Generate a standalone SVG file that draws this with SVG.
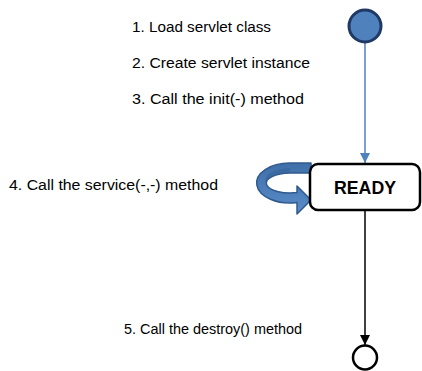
<svg xmlns="http://www.w3.org/2000/svg" width="422" height="371" viewBox="0 0 422 371">
<style>
  .lbl { font-family: "Liberation Sans", Arial, sans-serif; font-size: 14px; fill: #000; }
  .state { font-family: "Liberation Sans", Arial, sans-serif; font-size: 18px; font-weight: bold; fill: #000; }
</style>
<defs>
  <marker id="ahBlue" viewBox="0 0 10 10" refX="10" refY="5" markerWidth="10" markerHeight="10" markerUnits="userSpaceOnUse" orient="auto">
    <path d="M0,0 L10,5 L0,10 Z" fill="#4f81bd"/>
  </marker>
  <marker id="ahBlack" viewBox="0 0 10 10" refX="10" refY="5" markerWidth="11" markerHeight="10" markerUnits="userSpaceOnUse" orient="auto">
    <path d="M0,0 L10,5 L0,10 Z" fill="#000"/>
  </marker>
  <linearGradient id="ringGrad" x1="0" y1="0" x2="0" y2="1">
    <stop offset="0" stop-color="#3f6fa9"/>
    <stop offset="1" stop-color="#5a8cc9"/>
  </linearGradient>
</defs>

<g id="labels">
  <text class="lbl" x="132" y="32" textLength="139" lengthAdjust="spacingAndGlyphs">1. Load servlet class</text>
  <text class="lbl" x="132" y="68" textLength="178" lengthAdjust="spacingAndGlyphs">2. Create servlet instance</text>
  <text class="lbl" x="132" y="104" textLength="172" lengthAdjust="spacingAndGlyphs">3. Call the init(-) method</text>
  <text class="lbl" x="9" y="190" textLength="209" lengthAdjust="spacingAndGlyphs">4. Call the service(-,-) method</text>
  <text class="lbl" x="124" y="334" textLength="178" lengthAdjust="spacingAndGlyphs">5. Call the destroy() method</text>
</g>

<g id="connectors">
  <line x1="365" y1="43" x2="365" y2="163" stroke="#4f81bd" stroke-width="1.5" marker-end="url(#ahBlue)"/>
  <line x1="365" y1="211" x2="365" y2="345" stroke="#000" stroke-width="1.5" marker-end="url(#ahBlack)"/>
</g>

<g id="service-loop">
  <path d="M311,163 L290,163 A33,20 0 1 0 297,202.5 L297,214 L311,200 L297,186 L297,192.6 A24,10 0 1 1 290,173 L311,173 Z" fill="url(#ringGrad)" stroke="#2f5a8e" stroke-width="1.5" stroke-linejoin="round"/>
  <path d="M290,173 A24,10 0 0 0 266,183 A26,12 0 0 1 290,168 Z" fill="#36629a" opacity="0.6"/>
</g>

<g id="start">
  <circle cx="365" cy="26" r="16" fill="#4f81bd" stroke="#1f3864" stroke-width="3"/>
</g>

<g id="ready">
  <rect x="310" y="164" width="110" height="46" rx="8" ry="8" fill="#fff" stroke="#000" stroke-width="2.5"/>
  <text class="state" x="365" y="193.5" text-anchor="middle" textLength="62" lengthAdjust="spacingAndGlyphs">READY</text>
</g>

<g id="end">
  <circle cx="365" cy="357.5" r="12" fill="#fff" stroke="#000" stroke-width="2.5"/>
</g>
</svg>
